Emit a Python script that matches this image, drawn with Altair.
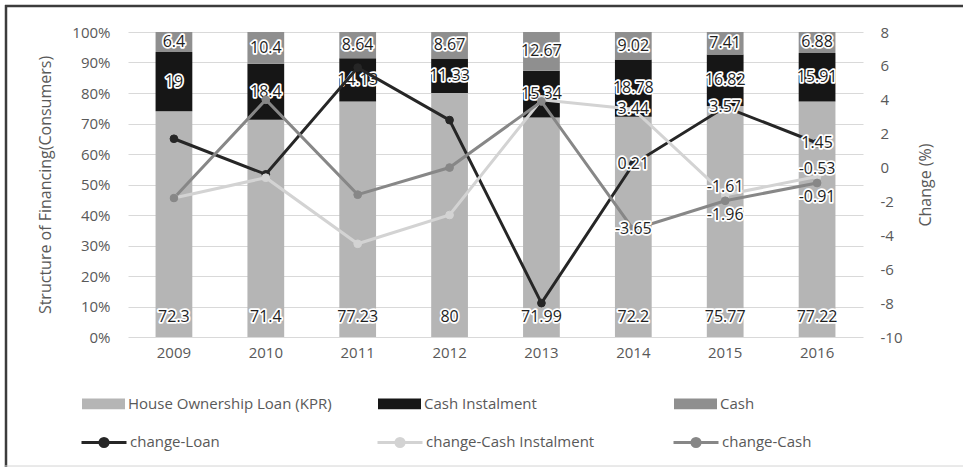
import altair as alt
import pandas as pd

years = ["2009", "2010", "2011", "2012", "2013", "2014", "2015", "2016"]
kpr = [72.3, 71.4, 77.23, 80, 71.99, 72.2, 75.77, 77.22]
cash_inst = [19, 18.4, 14.13, 11.33, 15.34, 18.78, 16.82, 15.91]
cash = [6.4, 10.4, 8.64, 8.67, 12.67, 9.02, 7.41, 6.88]
components = ["House Ownership Loan (KPR)", "Cash Instalment", "Cash"]
comp_colors = ["#b5b5b5", "#161616", "#8f8f8f"]

chg_loan = [1.7, -0.4, 5.9, 2.8, -8.0, 0.21, 3.57, 1.45]
chg_inst = [-1.8, -0.6, -4.5, -2.8, 4.0, 3.44, -1.61, -0.53]
chg_cash = [-1.8, 4.0, -1.6, 0.0, 3.9, -3.65, -1.96, -0.91]
series = ["change-Loan", "change-Cash Instalment", "change-Cash"]
series_colors = ["#262626", "#d3d3d3", "#878787"]

FONT = "Open Sans"
GRAY = "#595959"

bar_rows = []
for i, y in enumerate(years):
    for j, vals in enumerate([kpr, cash_inst, cash]):
        bar_rows.append({"year": y, "component": components[j], "value": vals[i], "order": j})
bar_df = pd.DataFrame(bar_rows)

line_rows = []
for j, vals in enumerate([chg_loan, chg_inst, chg_cash]):
    for i, y in enumerate(years):
        line_rows.append({"year": y, "series": series[j], "change": vals[i], "sidx": j})
line_df = pd.DataFrame(line_rows)

x_enc = alt.X(
    "year:N", sort=years, title=None,
    scale=alt.Scale(paddingInner=0.6, paddingOuter=0.3),
    axis=alt.Axis(labelColor=GRAY, labelFontSize=15, labelFont=FONT, labelPadding=8,
                  ticks=False, domain=False, grid=False, labelAngle=0),
)

left_scale = alt.Scale(domain=[0, 1], nice=False, zero=False)
left_axis = alt.Axis(
    format="%", values=[i / 10 for i in range(11)], grid=True, gridColor="#d9d9d9",
    domain=False, ticks=False, tickSize=0, labelPadding=18, labelColor=GRAY,
    labelFontSize=15, labelFont=FONT,
    title="Structure of Financing(Consumers)", titleColor=GRAY, titleFontSize=16,
    titleFont=FONT, titleFontWeight="normal", titleX=-83, titleY=152.5,
    titleAlign="center", titleBaseline="middle", titleAngle=270,
)

leg_bar = alt.Legend(
    orient="none", legendX=-46, legendY=350, direction="horizontal", columns=3,
    gridAlign="all", columnPadding=46, symbolType="M-1,-0.25H1V0.25H-1Z",
    symbolSize=1849, symbolStrokeWidth=0, labelFontSize=15, labelFont=FONT,
    labelColor=GRAY, labelOffset=3, labelLimit=500, title=None,
)

base_bar = alt.Chart(bar_df).transform_stack(
    stack="value", groupby=["year"], sort=[alt.SortField("order", order="ascending")],
    offset="normalize", as_=["y0", "y1"],
).transform_calculate(mid="(datum.y0 + datum.y1) / 2", lbl="'' + datum.value")

bars = base_bar.mark_bar().encode(
    x=x_enc,
    y=alt.Y("y0:Q", scale=left_scale, axis=left_axis),
    y2="y1:Q",
    color=alt.Color("component:N", scale=alt.Scale(domain=components, range=comp_colors),
                    legend=leg_bar, sort=components),
)


def halo_pair(chart, ycol, yscale, yaxis, dy=0, fs=16):
    halo = chart.mark_text(stroke="white", strokeWidth=3.5, strokeJoin="round", fill="white",
                           fontSize=fs, font=FONT, dy=dy).encode(
        x=x_enc, y=alt.Y(ycol, scale=yscale, axis=yaxis), text="lbl:N")
    txt = chart.mark_text(fill="#1e1e1e", fontSize=fs, font=FONT, dy=dy).encode(
        x=x_enc, y=alt.Y(ycol, scale=yscale, axis=yaxis), text="lbl:N")
    return [halo, txt]


kpr_lbl = halo_pair(base_bar.transform_filter("datum.order == 0"), "y0:Q", left_scale, left_axis, dy=-20)
mid_lbl = halo_pair(base_bar.transform_filter("datum.order > 0"), "mid:Q", left_scale, left_axis)

bar_layer = alt.layer(bars, *kpr_lbl, *mid_lbl)

right_scale = alt.Scale(domain=[-10, 8], nice=False, zero=False)
right_axis = alt.Axis(
    orient="right", values=list(range(-10, 9, 2)), labelExpr="'' + datum.value",
    grid=False, domain=False, ticks=False,
    tickSize=0, labelPadding=17, labelColor=GRAY, labelFontSize=15, labelFont=FONT,
    title="Change (%)", titleColor=GRAY, titleFontSize=16, titleFont=FONT,
    titleFontWeight="normal", titleX=62, titleY=152.5, titleAlign="center",
    titleBaseline="middle", titleAngle=270,
)

line_path = "M-1,0H1M-0.18,0A0.18,0.18,0,1,1,0.18,0A0.18,0.18,0,1,1,-0.18,0Z"
leg_line = alt.Legend(
    orient="none", legendX=-48, legendY=386, direction="horizontal", columns=3,
    gridAlign="all", columnPadding=72, symbolType=line_path, symbolSize=2025,
    symbolStrokeWidth=3, labelFontSize=15, labelFont=FONT, labelColor=GRAY,
    labelOffset=2, labelLimit=500, title=None,
)

lbase = alt.Chart(line_df).transform_calculate(lbl="'' + datum.change")
y_line = alt.Y("change:Q", scale=right_scale, axis=right_axis)
stroke_scale = alt.Scale(domain=series, range=series_colors)

lines = lbase.mark_line(strokeWidth=3).encode(
    x=x_enc, y=y_line,
    stroke=alt.Stroke("series:N", scale=stroke_scale, legend=leg_line, sort=series),
)
points = lbase.mark_point(filled=True, size=60, opacity=1, strokeWidth=1).encode(
    x=x_enc, y=y_line,
    fill=alt.Fill("series:N", scale=stroke_scale, legend=leg_line, sort=series),
    stroke=alt.Stroke("series:N", scale=stroke_scale, legend=leg_line, sort=series),
)

lab_base = lbase.transform_filter("toNumber(datum.year) >= 2014")
center_lbl = halo_pair(
    lab_base.transform_filter("datum.sidx == 0 || toNumber(datum.year) == 2014"),
    "change:Q", right_scale, right_axis)
above_lbl = halo_pair(
    lab_base.transform_filter("datum.sidx == 1 && toNumber(datum.year) > 2014"),
    "change:Q", right_scale, right_axis, dy=-8)
below_lbl = halo_pair(
    lab_base.transform_filter("datum.sidx == 2 && toNumber(datum.year) > 2014"),
    "change:Q", right_scale, right_axis, dy=14)

line_layer = alt.layer(lines, points, *center_lbl, *above_lbl, *below_lbl)

frame_df = pd.DataFrame({"k": [0]})
frame_top = alt.Chart(frame_df).mark_rule(color="#3c3c3c", strokeWidth=2.5).encode(
    x=alt.value(-123), x2=alt.value(840), y=alt.value(-26))
frame_left = alt.Chart(frame_df).mark_rule(color="#3c3c3c", strokeWidth=2.5).encode(
    x=alt.value(-122), y=alt.value(-27), y2=alt.value(440))
frame_bottom = alt.Chart(frame_df).mark_rule(color="#d4d4d4", strokeWidth=1).encode(
    x=alt.value(-123), x2=alt.value(840), y=alt.value(434))

chart = alt.layer(frame_top, frame_left, frame_bottom, bar_layer, line_layer).resolve_scale(
    y="independent"
).properties(
    width=735, height=305,
    padding={"left": 128, "top": 32, "right": 100, "bottom": 130},
    autosize=alt.AutoSizeParams(type="none"),
    background="white",
).configure_view(stroke=None)

chart.save("out.html", embed_options={"renderer": "svg", "actions": False})
